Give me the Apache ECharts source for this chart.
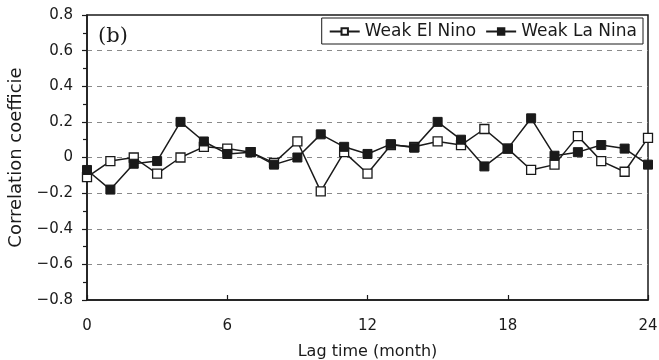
<!DOCTYPE html>
<html>
<head>
<meta charset="utf-8">
<script src="https://cdn.jsdelivr.net/npm/echarts@6/dist/echarts.min.js"></script>
<style>
  html, body { margin: 0; padding: 0; background: #fff; }
  #chart { width: 659px; height: 360px; }
</style>
</head>
<body>
<div id="chart"></div>
<script>
// Lag in months (0..24)
var lagMonths = [0, 1, 2, 3, 4, 5, 6, 7, 8, 9, 10, 11, 12, 13, 14, 15, 16, 17, 18, 19, 20, 21, 22, 23, 24];

// Correlation coefficients for weak El Nino years
var weakElNino = [-0.11, -0.02, 0.00, -0.09, 0.00, 0.06, 0.05, 0.03, -0.03, 0.09, -0.19, 0.03, -0.09,
                  0.07, 0.06, 0.09, 0.07, 0.16, 0.05, -0.07, -0.04, 0.12, -0.02, -0.08, 0.11];

// Correlation coefficients for weak La Nina years
var weakLaNina = [-0.07, -0.18, -0.035, -0.02, 0.20, 0.09, 0.02, 0.03, -0.04, 0.00, 0.13, 0.06, 0.02,
                  0.075, 0.055, 0.20, 0.10, -0.05, 0.05, 0.22, 0.01, 0.03, 0.07, 0.05, -0.04];

var seriesNames = ['Weak El Nino', 'Weak La Nina'];
var xAxisTitle = 'Lag time (month)';
var yAxisTitle = 'Correlation coefficie';
var panelTag = '(b)';

function pairs(xs, ys) {
  return xs.map(function (x, i) { return [x, ys[i]]; });
}

var ink = '#1a1a1a';
var sans = '"DejaVu Sans", sans-serif';

var chart = echarts.init(document.getElementById('chart'), null, { renderer: 'canvas' });

chart.setOption({
  backgroundColor: '#fff',
  animation: false,
  grid: {
    left: 87, right: 11, top: 15, bottom: 60,
    outerBoundsMode: 'none', containLabel: false,
    show: true, borderColor: ink, borderWidth: 1.5, backgroundColor: 'transparent'
  },
  graphic: [{
    type: 'text', left: 98, top: 26,
    style: { text: panelTag, fill: ink, font: '21px "DejaVu Serif", serif' }
  }],
  legend: {
    right: 16, top: 18,
    orient: 'horizontal',
    borderColor: ink, borderWidth: 1,
    padding: [5, 6, 4, 7],
    itemGap: 9, itemWidth: 30, itemHeight: 8,
    textStyle: { color: ink, fontFamily: sans, fontSize: 17 },
    data: seriesNames
  },
  xAxis: {
    type: 'value', min: 0, max: 24, interval: 6,
    name: xAxisTitle, nameLocation: 'middle', nameGap: 44,
    nameTextStyle: { color: ink, fontFamily: sans, fontSize: 16 },
    axisLine: { show: true, onZero: false, lineStyle: { color: ink, width: 1.5 } },
    axisTick: { show: true, inside: true, length: 5, lineStyle: { color: ink, width: 1.2 } },
    axisLabel: { color: ink, fontFamily: sans, fontSize: 15, margin: 19 },
    splitLine: { show: false }
  },
  yAxis: {
    type: 'value', min: -0.8, max: 0.8, interval: 0.2,
    name: yAxisTitle, nameLocation: 'middle', nameGap: 62,
    nameTextStyle: { color: ink, fontFamily: sans, fontSize: 18 },
    axisLine: { show: true, onZero: false, lineStyle: { color: ink, width: 1.5 } },
    axisTick: { show: true, inside: false, length: 5, lineStyle: { color: ink, width: 1.2 } },
    minorTick: { show: true, splitNumber: 2, length: 4, lineStyle: { color: ink, width: 1.2 } },
    axisLabel: {
      color: ink, fontFamily: sans, fontSize: 15, margin: 14,
      formatter: function (v) {
        var r = Math.round(v * 10) / 10;
        if (r === 0) return '0';
        return r.toFixed(1).replace('-', '\u2212');
      }
    },
    splitLine: {
      show: true, showMinLine: false, showMaxLine: false,
      lineStyle: { color: '#8a8a8a', width: 1, type: [5, 5] }
    }
  },
  series: [
    {
      name: seriesNames[0], type: 'line',
      data: pairs(lagMonths, weakElNino),
      symbol: 'rect', symbolSize: 9,
      lineStyle: { color: ink, width: 1.5 },
      itemStyle: { color: '#fff', borderColor: ink, borderWidth: 1.3 },
      z: 2
    },
    {
      name: seriesNames[1], type: 'line',
      data: pairs(lagMonths, weakLaNina),
      symbol: 'rect', symbolSize: 9,
      lineStyle: { color: ink, width: 1.5 },
      itemStyle: { color: ink, borderColor: ink, borderWidth: 1 },
      z: 3
    }
  ]
});
</script>
</body>
</html>
